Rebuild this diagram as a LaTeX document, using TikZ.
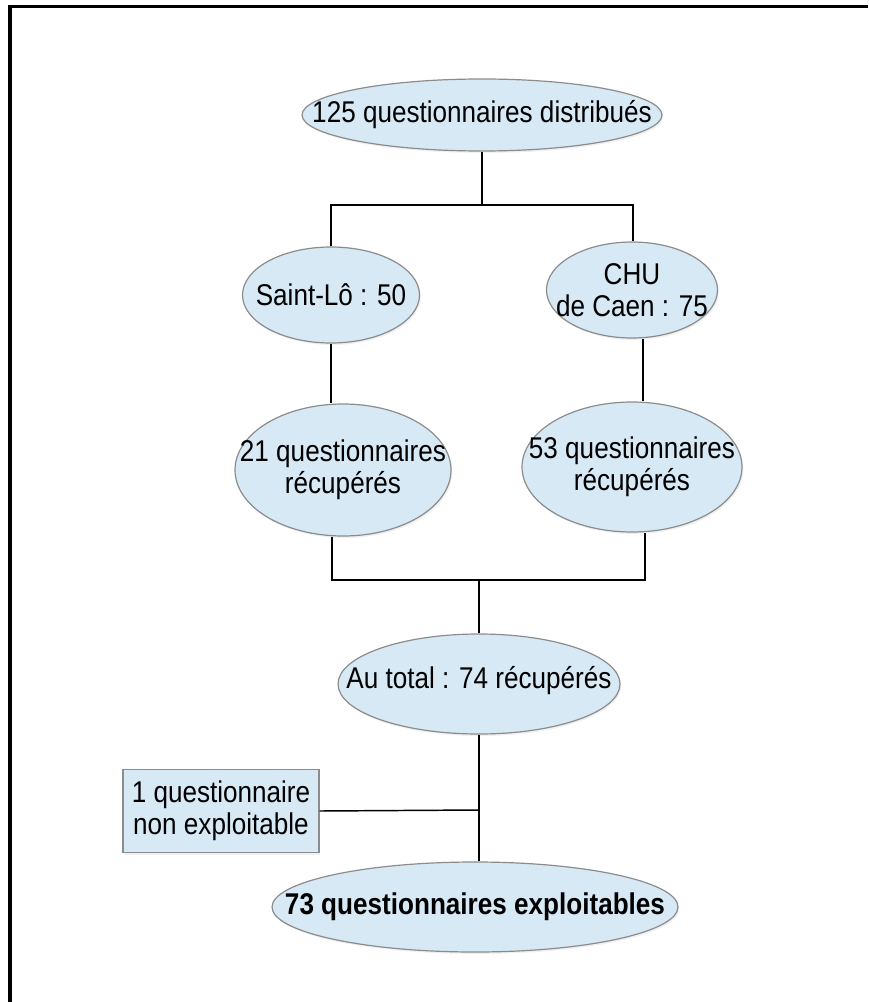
\documentclass[tikz,border=0pt]{standalone}
\usepackage{fontspec}
\setmainfont[FakeStretch=0.87]{Liberation Sans}
\usetikzlibrary{shapes.geometric,shadows}
\definecolor{boxfill}{RGB}{214,233,245}
\definecolor{boxline}{RGB}{140,140,140}
\begin{document}
\begin{tikzpicture}[x=0.75pt,y=-0.75pt,
  ell/.style 2 args={ellipse, draw=boxline, line width=0.9pt, fill=boxfill,
     minimum width=#1*0.75pt, minimum height=#2*0.75pt, inner sep=0pt,
     drop shadow={opacity=0.12, shadow xshift=1pt, shadow yshift=-1.5pt}},
  txt/.style={inner sep=0pt, align=center, font=\fontsize{22.5}{24}\selectfont},
  rbox/.style={rectangle, draw=boxline, line width=0.9pt, fill=boxfill,
     minimum width=196*0.75pt, minimum height=83*0.75pt, inner sep=0pt,
     drop shadow={opacity=0.12, shadow xshift=1pt, shadow yshift=-1.5pt}},
  conn/.style={draw=black, line width=1.1pt},
  frame/.style={draw=black, line width=2.5pt}]
\useasboundingbox (0,0) rectangle (868,1002);
\draw[frame] (10,1002) -- (10,6.5) -- (868,6.5);

\node[ell={360}{72}] (A) at (482,115) {};
\node[txt] (At) at (A) {125 questionnaires distribués};
\node[ell={177}{96}] (B) at (331,295) {};
\node[txt] (Bt) at (B) {Saint-Lô : 50};
\node[ell={171}{96}] (C) at (632,290) {};
\node[txt] (Ct) at (C) {CHU\\de Caen : 75};
\node[ell={216}{132}] (D) at (343,470) {};
\node[txt] (Dt) at (D) {21 questionnaires\\récupérés};
\node[ell={220}{130}] (E) at (632,467) {};
\node[txt] (Et) at (E) {53 questionnaires\\récupérés};
\node[ell={282}{100}] (F) at (479,684) {};
\node[txt] (Ft) at ([yshift=2.5pt]F.center) {Au total : 74 récupérés};
\node[rbox] (G) at (221,811) {};
\node[txt] (Gt) at (G) {1 questionnaire\\non exploitable};
\node[ell={406}{90}] (H) at (475,907) {};
\node[txt] (Ht) at (H) {\bfseries 73 questionnaires exploitables};

\coordinate (j1) at (482,205);
\coordinate (j2) at (479,580);
\coordinate (j3) at (479,810);

\draw[conn] (A.south) -- (j1);
\draw[conn] (B.north) -- (B.north |- j1) -- ([xshift=0.75pt]C.north |- j1) -- ([xshift=0.75pt]C.north);
\draw[conn] (B.south) -- (B.south |- D.north);
\draw[conn] ([xshift=8.25pt]C.south) -- ([xshift=8.25pt]E.north);
\draw[conn] ([xshift=-8.25pt]D.south) -- ([xshift=-8.25pt]D.south |- j2) -- ([xshift=9.75pt]E.south |- j2) -- ([xshift=9.75pt]E.south);
\draw[conn] (j2) -- (F.north);
\draw[conn] (F.south) -- (F.south |- H.north);
\draw[conn] (G.east) -- (j3);
\end{tikzpicture}
\end{document}
